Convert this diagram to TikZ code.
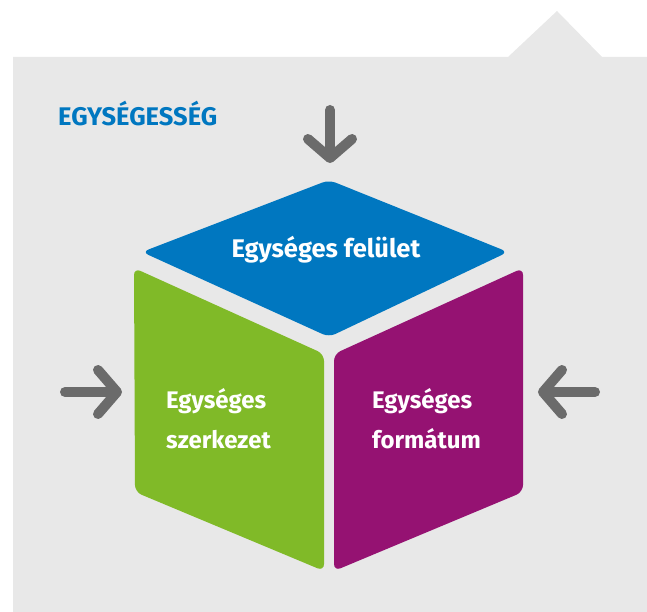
\documentclass[tikz,border=0pt]{standalone}
\usepackage{fontspec}
\setmainfont{Fira Sans}
\usetikzlibrary{arrows.meta}
\definecolor{panelgray}{HTML}{E8E8E8}
\definecolor{topblue}{HTML}{0077C0}
\definecolor{leftgreen}{HTML}{80BA28}
\definecolor{rightpurple}{HTML}{951272}
\definecolor{arrowgray}{HTML}{6B6B6B}

\begin{document}
\begin{tikzpicture}[x=1pt,y=-1pt,
    face/.style={rounded corners=7pt},
    push/.style={draw=arrowgray,line width=10pt,line cap=round,
      -{Straight Barb[length=19pt,width=44pt,line cap=round,line join=round]}},
    facelabel/.style={text=white,font=\bfseries\fontsize{24}{40}\selectfont,
      align=left,inner sep=0pt}]
    \useasboundingbox (0,0) rectangle (647,612);
    %Panel
    \fill[panelgray] (13,57) -- (508,57) -- (557,11) -- (602,57) -- (647,57)
      -- (647,612) -- (13,612) -- cycle;
    \node[anchor=base west,inner sep=0pt,text=topblue,
      font=\bfseries\fontsize{25.5}{28}\selectfont] (title) at (58,126) {EGYSÉGESSÉG};
    %Cube
    \fill[topblue,face] (329,180) -- (508,252) -- (329,337) -- (142,252) -- cycle;
    \fill[leftgreen,face] (134,268) -- (324,354) -- (324,571) -- (135,492) -- cycle;
    \fill[rightpurple,face] (523,268) -- (334,354) -- (334,571) -- (523,492) -- cycle;
    \coordinate (topface) at (330,163);
    \coordinate (leftface) at (122,392);
    \coordinate (rightface) at (538,392);
    %Labels
    \node[facelabel,anchor=base,font=\bfseries\fontsize{25.5}{40}\selectfont]
      (felulet) at (326,257) {Egységes felület};
    \node[facelabel,anchor=base west] (szerk) at (166,448) {Egységes\\szerkezet};
    \node[facelabel,anchor=base west] (format) at (372,448) {Egységes\\formátum};
    %Arrows
    \coordinate (topin) at (330,110);
    \coordinate (leftin) at (65,392);
    \coordinate (rightin) at (595,392);
    \draw[push] (topin) -- (topface);
    \draw[push] (leftin) -- (leftface);
    \draw[push] (rightin) -- (rightface);
\end{tikzpicture}
\end{document}
